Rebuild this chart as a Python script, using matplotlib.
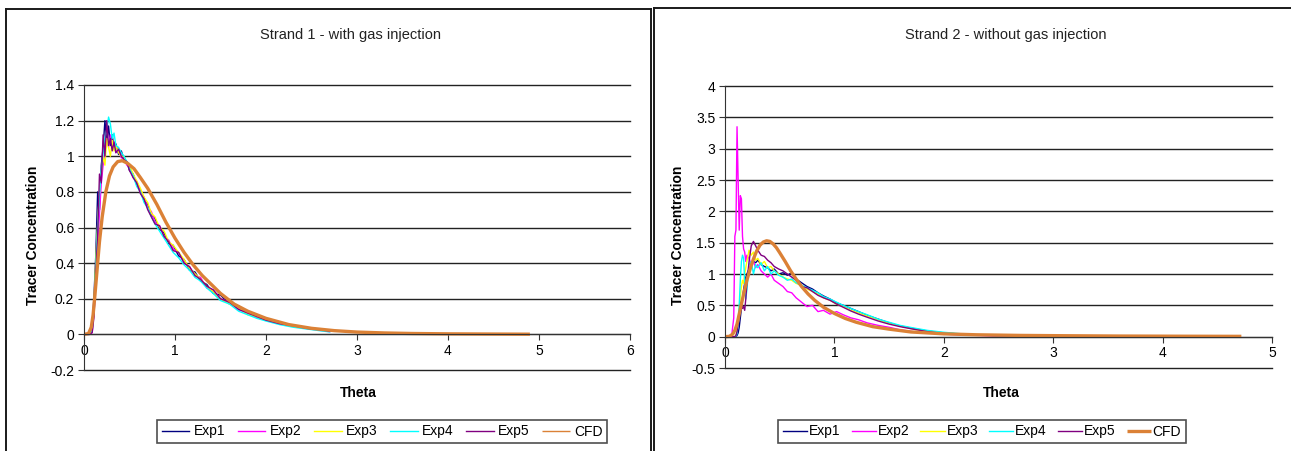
import numpy as np
import matplotlib
matplotlib.use('Agg')
import matplotlib.pyplot as plt
from matplotlib.lines import Line2D
from matplotlib.ticker import FuncFormatter

plt.rcParams['font.family'] = 'Liberation Sans'

# ---- Strand 1 (with gas injection) ----
theta_s1 = [0.00, 0.06, 0.09, 0.11, 0.13, 0.15, 0.17, 0.19, 0.21, 0.23,
            0.25, 0.27, 0.29, 0.31, 0.33, 0.35, 0.38, 0.41, 0.44, 0.47,
            0.50, 0.54, 0.58, 0.62, 0.66, 0.70, 0.74, 0.78, 0.83, 0.88,
            0.93, 0.98, 1.04, 1.10, 1.16, 1.22, 1.28, 1.35, 1.42, 1.50,
            1.60, 1.70, 1.80, 1.90, 2.00, 2.15, 2.30, 2.45, 2.60, 2.70]
s1_exp1 = [0, 0, 0.03, 0.22, 0.45, 0.80, 0.70, 0.95, 1.05, 1.20,
           1.08, 1.17, 1.06, 1.12, 1.04, 1.07, 1.01, 1.03, 0.98, 0.97,
           0.92, 0.90, 0.84, 0.81, 0.75, 0.73, 0.67, 0.65, 0.59, 0.57,
           0.51, 0.50, 0.44, 0.42, 0.36, 0.35, 0.30, 0.28, 0.23, 0.22,
           0.17, 0.16, 0.12, 0.10, 0.085, 0.06, 0.05, 0.034, 0.026, 0.02]
s1_exp2 = [0, 0, 0.01, 0.12, 0.30, 0.50, 0.68, 0.85, 0.95, 1.02,
           1.10, 1.05, 1.12, 1.04, 1.08, 1.02, 1.04, 0.99, 1.00, 0.95,
           0.94, 0.88, 0.86, 0.80, 0.77, 0.71, 0.69, 0.63, 0.61, 0.55,
           0.53, 0.48, 0.46, 0.40, 0.38, 0.33, 0.32, 0.26, 0.25, 0.20,
           0.18, 0.14, 0.12, 0.095, 0.08, 0.06, 0.045, 0.032, 0.022, 0.015]
s1_exp3 = [0, 0, 0.02, 0.18, 0.42, 0.62, 0.80, 0.90, 1.00, 0.95,
           1.10, 1.05, 1.00, 1.09, 1.03, 1.06, 1.02, 1.00, 1.00, 0.96,
           0.95, 0.90, 0.86, 0.82, 0.77, 0.74, 0.68, 0.66, 0.60, 0.58,
           0.52, 0.50, 0.46, 0.42, 0.37, 0.34, 0.31, 0.27, 0.24, 0.20,
           0.17, 0.15, 0.11, 0.10, 0.08, 0.065, 0.045, 0.035, 0.024, 0.017]
s1_exp4 = [0, 0, 0.02, 0.14, 0.38, 0.60, 0.78, 0.92, 1.02, 1.10,
           1.15, 1.22, 1.18, 1.10, 1.13, 1.06, 1.05, 1.02, 1.00, 0.97,
           0.93, 0.89, 0.83, 0.80, 0.74, 0.71, 0.66, 0.62, 0.58, 0.54,
           0.50, 0.46, 0.43, 0.39, 0.36, 0.32, 0.30, 0.26, 0.23, 0.19,
           0.17, 0.13, 0.11, 0.09, 0.075, 0.055, 0.04, 0.03, 0.02, 0.014]
s1_exp5 = [0, 0, 0.01, 0.10, 0.35, 0.55, 0.90, 0.85, 1.12, 1.00,
           1.20, 1.06, 1.10, 1.03, 1.08, 1.02, 1.04, 1.00, 0.98, 0.97,
           0.92, 0.88, 0.85, 0.79, 0.76, 0.70, 0.66, 0.62, 0.61, 0.55,
           0.52, 0.47, 0.46, 0.40, 0.38, 0.33, 0.31, 0.27, 0.25, 0.20,
           0.18, 0.14, 0.12, 0.10, 0.08, 0.06, 0.048, 0.034, 0.025, 0.018]
cfd_theta_s1 = [0, 0.05, 0.08, 0.10, 0.12, 0.14, 0.17, 0.20, 0.24, 0.28,
                0.32, 0.37, 0.42, 0.48, 0.55, 0.62, 0.70, 0.80, 0.90, 1.00,
                1.10, 1.20, 1.30, 1.40, 1.50, 1.65, 1.80, 2.00, 2.25, 2.50,
                2.75, 3.00, 3.30, 3.60, 4.00, 4.40, 4.90]
cfd_s1 = [0, 0.005, 0.04, 0.11, 0.22, 0.34, 0.52, 0.66, 0.80, 0.89,
          0.94, 0.97, 0.975, 0.96, 0.93, 0.88, 0.82, 0.73, 0.63, 0.54,
          0.46, 0.39, 0.33, 0.28, 0.23, 0.17, 0.13, 0.09, 0.055, 0.034,
          0.021, 0.013, 0.008, 0.005, 0.003, 0.002, 0.001]

# ---- Strand 2 (without gas injection) ----
theta_s2 = [0.00, 0.06, 0.08, 0.09, 0.10, 0.11, 0.12, 0.13, 0.14, 0.15,
            0.16, 0.17, 0.18, 0.19, 0.20, 0.22, 0.24, 0.26, 0.28, 0.30,
            0.33, 0.36, 0.39, 0.42, 0.45, 0.49, 0.53, 0.57, 0.61, 0.65,
            0.70, 0.75, 0.80, 0.85, 0.90, 0.96, 1.02, 1.08, 1.15, 1.22,
            1.30, 1.40, 1.50, 1.60, 1.72, 1.85, 2.00, 2.20, 2.45, 2.70]
s2_exp1 = [0, 0, 0, 0, 0, 0.02, 0.06, 0.15, 0.30, 0.45,
           0.60, 0.75, 0.85, 0.95, 1.00, 1.08, 1.15, 1.20, 1.18, 1.22,
           1.15, 1.12, 1.10, 1.05, 1.08, 1.00, 1.02, 0.98, 1.02, 0.92,
           0.86, 0.80, 0.76, 0.70, 0.65, 0.60, 0.54, 0.50, 0.45, 0.40,
           0.34, 0.28, 0.22, 0.17, 0.13, 0.09, 0.06, 0.035, 0.02, 0.01]
s2_exp2 = [0, 0, 0.3, 1.6, 1.7, 3.35, 2.5, 1.7, 2.25, 2.2,
           1.6, 1.4, 1.35, 1.2, 1.3, 1.25, 1.15, 1.2, 1.1, 1.15,
           1.05, 1.0, 0.95, 1.0, 0.9, 0.85, 0.8, 0.72, 0.7, 0.62,
           0.55, 0.48, 0.5, 0.4, 0.42, 0.36, 0.4, 0.35, 0.3, 0.27,
           0.22, 0.18, 0.15, 0.11, 0.08, 0.06, 0.04, 0.025, 0.015, 0.01]
s2_exp3 = [0, 0, 0, 0, 0.02, 0.1, 0.25, 0.45, 0.65, 0.8,
           0.9, 0.85, 1.0, 1.1, 1.2, 1.38, 1.3, 1.35, 1.22, 1.25,
           1.15, 1.2, 1.1, 1.12, 1.05, 1.0, 0.95, 0.92, 0.9, 0.85,
           0.82, 0.76, 0.72, 0.68, 0.62, 0.58, 0.52, 0.48, 0.42, 0.38,
           0.33, 0.27, 0.21, 0.17, 0.12, 0.09, 0.06, 0.035, 0.02, 0.01]
s2_exp4 = [0, 0, 0, 0, 0.01, 0.05, 0.2, 0.5, 0.9, 1.2,
           1.3, 1.25, 0.9, 0.6, 0.75, 1.15, 1.2, 1.0, 1.15, 1.1,
           1.18, 1.05, 1.12, 1.0, 1.05, 0.98, 0.95, 0.9, 0.92, 0.86,
           0.82, 0.78, 0.74, 0.7, 0.64, 0.6, 0.55, 0.5, 0.45, 0.4,
           0.35, 0.28, 0.23, 0.18, 0.14, 0.1, 0.07, 0.04, 0.02, 0.01]
s2_exp5 = [0, 0, 0, 0, 0.02, 0.08, 0.2, 0.35, 0.5, 0.55,
           0.45, 0.48, 0.42, 0.6, 0.85, 1.2, 1.45, 1.52, 1.45, 1.38,
           1.3, 1.28, 1.22, 1.18, 1.12, 1.08, 1.05, 1.0, 0.95, 0.9,
           0.8, 0.78, 0.72, 0.66, 0.62, 0.58, 0.52, 0.47, 0.41, 0.36,
           0.31, 0.25, 0.2, 0.16, 0.12, 0.08, 0.05, 0.03, 0.015, 0.01]
cfd_theta_s2 = [0, 0.04, 0.07, 0.09, 0.11, 0.13, 0.15, 0.17, 0.20, 0.23,
                0.26, 0.29, 0.32, 0.35, 0.38, 0.41, 0.44, 0.47, 0.50, 0.55,
                0.60, 0.65, 0.70, 0.76, 0.82, 0.90, 1.00, 1.10, 1.20, 1.35,
                1.50, 1.70, 2.00, 2.30, 2.70, 3.10, 3.60, 4.20, 4.72]
cfd_s2 = [0, 0.005, 0.04, 0.1, 0.2, 0.36, 0.52, 0.68, 0.9, 1.08,
          1.24, 1.37, 1.46, 1.51, 1.53, 1.52, 1.48, 1.42, 1.34, 1.2,
          1.05, 0.92, 0.8, 0.68, 0.58, 0.47, 0.37, 0.29, 0.23, 0.16,
          0.12, 0.075, 0.045, 0.03, 0.02, 0.015, 0.01, 0.007, 0.005]

labels = ['Exp1', 'Exp2', 'Exp3', 'Exp4', 'Exp5', 'CFD']
colors = ['#000080', '#FF00FF', '#FFFF00', '#00FFFF', '#800080', '#DB8136']

W, H = 1291, 451
fig = plt.figure(figsize=(W / 100, H / 100), dpi=100)


def fx(px):
    return px / W


def fy(py):
    return 1 - py / H


def panel(rect, theta, exps, cfd_theta, cfd, xmax, ylim, ystep, title, tcx, ylx, xlx,
          leg_cx, leg_opts, cfd_leg_lw):
    ax = fig.add_axes(rect)
    for vals, lab, col in zip(exps, labels[:5], colors[:5]):
        ax.plot(theta, vals, color=col, lw=1.0, label=lab)
    ax.plot(cfd_theta, cfd, color=colors[5], lw=2.4, label=labels[5],
            solid_capstyle='butt')
    ax.set_xlim(0, xmax)
    ax.set_ylim(*ylim)
    yt = np.arange(ylim[0], ylim[1] + ystep / 2, ystep)
    ax.set_yticks(yt)
    ax.set_xticks(range(0, xmax + 1))
    ax.yaxis.set_major_formatter(FuncFormatter(lambda v, p: f'{round(v, 2):g}'))
    for y in yt:
        ax.axhline(y, color='#222222', lw=1.0, zorder=0, clip_on=False)
    ax.spines['top'].set_visible(False)
    ax.spines['right'].set_visible(False)
    ax.spines['bottom'].set_position(('data', 0))
    ax.spines['bottom'].set_color('#333333')
    ax.spines['left'].set_color('#333333')
    ax.tick_params(axis='both', labelsize=10, direction='out', length=4,
                   color='#333333', pad=3)
    ax.set_facecolor('none')

    fig.text(fx(tcx), fy(35), title, ha='center', va='center', fontsize=10.5, color='#222222')
    fig.text(fx(ylx), fy(235), 'Tracer Concentration', rotation=90, ha='center',
             va='center', fontsize=10, fontweight='bold')
    fig.text(fx(xlx), fy(393), 'Theta', ha='center', va='center', fontsize=10,
             fontweight='bold')
    leg = fig.legend(*ax.get_legend_handles_labels(), loc='center',
                     bbox_to_anchor=(fx(leg_cx), fy(431.5)), ncol=6, fontsize=10,
                     frameon=True, fancybox=False, edgecolor='#222222',
                     borderpad=0.35, **leg_opts)
    leg.get_frame().set_linewidth(1.2)
    lines = leg.get_lines()
    for line in lines:
        line.set_linewidth(1.0)
    lines[-1].set_linewidth(cfd_leg_lw)
    return ax


panel([fx(84), fy(370), fx(630 - 84), (370 - 85) / H],
      theta_s1, [s1_exp1, s1_exp2, s1_exp3, s1_exp4, s1_exp5],
      cfd_theta_s1, cfd_s1, 6, (-0.2, 1.4), 0.2,
      'Strand 1 - with gas injection', 351, 33, 358, 382,
      dict(handlelength=2.0, handletextpad=0.3, columnspacing=0.9), 1.0)

panel([fx(725), fy(368), fx(1272 - 725), (368 - 86) / H],
      theta_s2, [s2_exp1, s2_exp2, s2_exp3, s2_exp4, s2_exp5],
      cfd_theta_s2, cfd_s2, 5, (-0.5, 4.0), 0.5,
      'Strand 2 - without gas injection', 1006, 678, 1001, 982,
      dict(handlelength=1.75, handletextpad=0.12, columnspacing=0.8), 2.4)

# chart area borders
for (x0, y0, x1, y1) in [(6, 9, 6, 451), (6, 9, 651, 9), (651, 9, 651, 451),
                         (654, 8, 654, 451), (654, 8, 1291, 8)]:
    fig.add_artist(Line2D([fx(x0), fx(x1)], [fy(y0), fy(y1)], color='#1a1a1a', lw=1.4))

fig.savefig('out.png', dpi=100)
